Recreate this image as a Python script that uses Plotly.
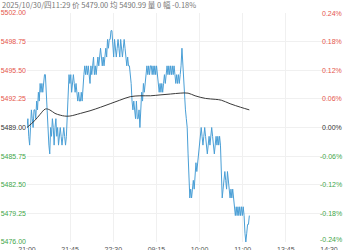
import plotly.graph_objects as go

title_text = "2025/10/30/四11:29 价 5479.00 均 5490.99 量 0 幅 -0.18%"
base_price = 5489.0
total_minutes = 345  # 21:00-23:00, 09:00-10:15, 10:30-11:30, 13:30-15:00

price = [
    5489, 5490, 5488, 5487, 5489, 5491, 5490, 5489, 5491,
    5491, 5490, 5492, 5491, 5493, 5492,
    5494, 5493, 5494, 5493, 5494, 5495, 5495,
    5493, 5490, 5488, 5487, 5486,
    5489, 5488, 5490, 5489, 5487, 5489, 5490, 5488, 5489, 5487, 5488,
    5489, 5488, 5487, 5488, 5489, 5488, 5487, 5488,
    5490, 5493, 5495,
    5494, 5495, 5493, 5494, 5495, 5494, 5493, 5494, 5493, 5492, 5493, 5492,
    5492, 5493, 5492, 5494, 5495, 5496,
    5495, 5496, 5495, 5496, 5495, 5494, 5496, 5495, 5496, 5497, 5495, 5496, 5495, 5496,
    5497, 5496, 5497, 5498, 5497, 5496, 5497,
    5496, 5497, 5498, 5497, 5499, 5498, 5499,
    5499, 5500, 5500,
    5498, 5497, 5499, 5498, 5497, 5498, 5499, 5498, 5497, 5499, 5498,
    5497, 5498, 5499, 5498, 5497, 5496, 5497, 5496,
    5496, 5495, 5494, 5492, 5491, 5492,
    5491, 5490, 5492, 5490, 5490, 5491, 5489,
    5491, 5493, 5492, 5494, 5493, 5494, 5495,
    5496, 5495, 5496, 5495, 5496, 5496, 5495, 5496, 5495, 5496, 5495, 5496, 5495, 5494,
    5493, 5494, 5493, 5494, 5493, 5494, 5495, 5494,
    5495, 5496, 5495, 5496, 5495, 5496, 5495, 5496, 5495, 5496, 5495, 5494,
    5495, 5494, 5495, 5494, 5495, 5496, 5498, 5496,
    5494, 5492, 5491, 5490, 5489, 5486,
    5483, 5481, 5482, 5481, 5482, 5483, 5482,
    5484, 5485, 5484, 5485, 5486, 5487,
    5488, 5489, 5488, 5487, 5488, 5489, 5488,
    5487, 5486, 5487, 5488, 5487, 5488, 5489,
    5488, 5487, 5486, 5487, 5488, 5487, 5488, 5487, 5488, 5487,
    5484, 5481, 5482, 5483, 5484,
    5483, 5482, 5484, 5483, 5482, 5481,
    5482, 5481, 5482, 5481, 5480,
    5479, 5480, 5479, 5480, 5479, 5480, 5479, 5480, 5479, 5480, 5479,
    5477, 5476, 5477, 5478, 5478, 5479,
]
minute_idx = list(range(len(price)))

avg_idx = [0, 9, 15, 21, 26, 32, 38, 43, 49, 61, 72, 84, 95, 106, 118, 129, 141,
           152, 164, 175, 184, 192, 204, 215, 222, 232, 244, 254]
avg_price = [5489.0, 5489.8, 5490.5, 5491.1, 5491.0, 5490.6, 5490.4, 5490.3, 5490.3,
             5490.6, 5490.9, 5491.3, 5491.7, 5492.1, 5492.5, 5492.6, 5492.6, 5492.7,
             5492.8, 5492.9, 5492.9, 5492.6, 5492.3, 5492.2, 5492.1, 5491.7, 5491.3,
             5491.0]

y_ticks = [5476.00, 5479.25, 5482.50, 5485.75, 5489.00, 5492.25, 5495.50, 5498.75, 5502.00]
pct_labels = ["-0.24%", "-0.18%", "-0.12%", "-0.06%", "0.00%", "0.06%", "0.12%", "0.18%", "0.24%"]
x_labels = ["21:00", "21:45", "22:30", "09:15", "10:00", "11:00", "13:45", "14:30"]

RED = "#e5564c"
GREEN = "#3fa64a"
NEUTRAL = "#333333"


def col(v):
    if v > base_price:
        return RED
    if v < base_price:
        return GREEN
    return NEUTRAL


left_text = [f"<span style='color:{col(v)}'>{v:.2f}</span>" for v in y_ticks]
x_tickvals = [k * total_minutes / 7 for k in range(len(x_labels))]

fig = go.Figure()
fig.add_trace(go.Scatter(x=minute_idx, y=price, mode="lines",
                         line=dict(color="#4a9fd6", width=1), hoverinfo="skip"))
fig.add_trace(go.Scatter(x=avg_idx, y=avg_price, mode="lines",
                         line=dict(color="#3a3a3a", width=1, shape="spline"), hoverinfo="skip"))

fig.add_shape(type="line", xref="paper", x0=0, x1=1, yref="y", y0=base_price, y1=base_price,
              line=dict(color="#cccccc", width=1, dash="dash"), layer="below")

# right-hand percent labels, right-aligned like the reference
for v, t in zip(y_ticks, pct_labels):
    fig.add_annotation(text=t, xref="paper", yref="y", x=1, y=v, xanchor="right",
                       yanchor="middle", xshift=15, yshift=3 if v == y_ticks[0] else 0,
                       showarrow=False,
                       font=dict(size=7, color=col(v), family="Arial, Liberation Sans"))

fig.add_annotation(text=title_text, xref="paper", yref="paper", x=0, y=1,
                   xanchor="left", yanchor="middle", xshift=-27, yshift=9,
                   showarrow=False, font=dict(size=7.5, color="#777777",
                                              family="Noto Sans CJK SC, Arial"))

fig.update_layout(
    width=350, height=250,
    margin=dict(l=27, r=21, t=13, b=8, autoexpand=False),
    paper_bgcolor="white", plot_bgcolor="white",
    showlegend=False,
    font=dict(family="Arial, Liberation Sans", size=7, color="#666666"),
    xaxis=dict(range=[0, total_minutes], tickvals=x_tickvals, ticktext=x_labels,
               showgrid=True, gridcolor="#f0f0f0", gridwidth=1, zeroline=False,
               showline=False, ticks="", automargin=False, ticklabelstandoff=2,
               tickfont=dict(size=7, color="#555555")),
    yaxis=dict(range=[y_ticks[0], y_ticks[-1]], tickvals=y_ticks, ticktext=left_text,
               showgrid=True, gridcolor="#f0f0f0", gridwidth=1, zeroline=False,
               showline=False, ticks="", automargin=False, tickfont=dict(size=7)),
)

fig.write_html("out.html")
